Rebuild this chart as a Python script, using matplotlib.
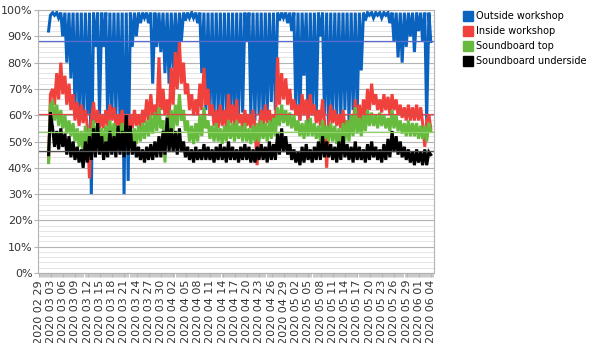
import matplotlib.pyplot as plt
import matplotlib.dates as mdates
from matplotlib.lines import Line2D
import numpy as np
import pandas as pd

# relative humidity (%), two readings a day (late morning / night), from 2020-03-02
first_day = "2020-03-02"

outside_a = [92, 99, 99, 99, 99, 99, 99, 99, 99, 99,
             99, 99, 99, 99, 99, 99, 99, 99, 99, 99,
             99, 99, 99, 99, 99, 99, 99, 99, 99, 99,
             99, 99, 99, 99, 99, 99, 99, 99, 99, 99,
             99, 99, 99, 99, 99, 99, 99, 99, 99, 99,
             99, 99, 99, 99, 99, 99, 99, 99, 99, 99,
             99, 99, 99, 99, 99, 99, 99, 99, 99, 99,
             99, 99, 99, 99, 99, 99, 99, 99, 99, 99,
             99, 99, 99, 99, 99, 99, 99, 99, 99, 99,
             99, 99, 99, 99]
outside_b = [98, 98, 97, 90, 80, 74, 62, 59, 58, 60,
             30, 86, 60, 86, 58, 59, 60, 58, 30, 35,
             86, 90, 95, 97, 95, 72, 86, 84, 76, 72,
             78, 80, 88, 96, 97, 97, 95, 76, 62, 60,
             58, 60, 57, 60, 58, 57, 60, 61, 88, 60,
             58, 60, 57, 60, 65, 62, 96, 97, 95, 92,
             62, 58, 75, 57, 60, 60, 90, 60, 55, 58,
             60, 58, 62, 58, 62, 60, 77, 96, 98, 97,
             98, 97, 98, 95, 88, 82, 80, 86, 90, 84,
             92, 88, 58, 88]

inside_a = [42, 70, 76, 80, 75, 72, 68, 65, 64, 62,
            36, 65, 62, 60, 62, 64, 63, 60, 62, 58,
            60, 62, 60, 62, 66, 68, 64, 82, 70, 66,
            78, 84, 88, 80, 72, 68, 66, 72, 78, 70,
            64, 62, 64, 62, 68, 64, 66, 60, 62, 60,
            62, 41, 62, 64, 62, 60, 82, 76, 74, 70,
            66, 64, 68, 66, 68, 64, 62, 66, 40, 64,
            62, 60, 62, 58, 60, 66, 64, 66, 70, 72,
            68, 66, 68, 67, 68, 66, 64, 63, 64, 63,
            64, 63, 48, 60]
inside_b = [68, 64, 66, 68, 64, 62, 58, 56, 57, 56,
            58, 57, 55, 55, 56, 58, 56, 55, 56, 54,
            55, 56, 55, 57, 58, 60, 58, 62, 60, 58,
            64, 70, 72, 68, 62, 60, 60, 62, 64, 60,
            56, 55, 56, 55, 57, 56, 57, 55, 56, 55,
            56, 55, 56, 57, 56, 55, 64, 66, 64, 62,
            60, 58, 60, 58, 60, 57, 56, 58, 56, 57,
            56, 55, 56, 54, 55, 57, 56, 58, 62, 64,
            62, 61, 62, 60, 62, 60, 59, 58, 58, 58,
            58, 57, 58, 55]

top_a = [42, 65, 64, 62, 60, 58, 57, 55, 54, 56,
         55, 58, 56, 55, 56, 58, 57, 56, 57, 55,
         54, 55, 56, 57, 58, 60, 61, 63, 58, 60,
         62, 64, 68, 62, 58, 56, 57, 60, 63, 58,
         56, 57, 55, 56, 58, 57, 58, 56, 57, 55,
         56, 57, 58, 57, 58, 59, 63, 64, 62, 61,
         60, 58, 57, 58, 59, 57, 56, 58, 56, 57,
         56, 55, 57, 58, 60, 63, 59, 60, 62, 61,
         60, 61, 60, 59, 62, 60, 58, 57, 58, 57,
         57, 56, 56, 57]
top_b = [64, 58, 56, 55, 53, 52, 50, 48, 46, 48,
         48, 50, 49, 48, 50, 50, 50, 49, 50, 49,
         48, 49, 50, 51, 52, 53, 54, 55, 42, 50,
         54, 56, 58, 54, 50, 49, 50, 52, 55, 51,
         50, 50, 49, 50, 51, 50, 51, 50, 50, 49,
         50, 50, 51, 50, 51, 52, 56, 57, 56, 55,
         54, 52, 51, 52, 52, 51, 50, 51, 50, 50,
         49, 48, 50, 50, 52, 53, 52, 54, 56, 56,
         55, 56, 55, 54, 55, 54, 53, 52, 52, 52,
         51, 51, 50, 54]

under_a = [45, 55, 54, 55, 53, 52, 50, 48, 47, 50,
           52, 55, 57, 52, 50, 54, 52, 56, 54, 60,
           56, 50, 48, 47, 48, 49, 50, 52, 54, 59,
           55, 54, 55, 50, 48, 47, 48, 47, 49, 48,
           47, 48, 49, 48, 50, 48, 47, 48, 49, 48,
           47, 48, 49, 48, 50, 49, 53, 55, 52, 49,
           47, 46, 48, 49, 47, 48, 50, 52, 50, 49,
           48, 50, 52, 49, 48, 50, 48, 47, 49, 50,
           48, 47, 49, 51, 54, 52, 50, 48, 47, 46,
           47, 46, 47, 46]
under_b = [61, 48, 47, 48, 45, 44, 43, 42, 40, 42,
           43, 44, 45, 43, 44, 45, 44, 45, 44, 45,
           45, 44, 43, 42, 43, 43, 44, 44, 45, 46,
           46, 45, 46, 44, 43, 42, 43, 43, 43, 43,
           42, 43, 43, 42, 43, 43, 42, 43, 43, 42,
           42, 43, 43, 42, 43, 43, 45, 46, 45, 43,
           42, 41, 42, 43, 42, 43, 43, 44, 44, 43,
           42, 43, 44, 43, 42, 43, 43, 42, 43, 44,
           43, 42, 43, 44, 46, 45, 44, 43, 42, 41,
           42, 41, 41, 45]

labels = ["Outside workshop", "Inside workshop", "Soundboard top", "Soundboard underside"]
colors = ["#0b63c0", "#f0413c", "#66bb3e", "#000000"]
mean_colors = ["#5a6cd0", "#e04848", "#8fd068", "#555555"]
mean_levels = [88.4, 60.5, 53.5, 46.2]


def interleave(a, b):
    return np.column_stack([a, b]).ravel()


days = pd.date_range(first_day, periods=len(outside_a), freq="D")
t = interleave(days + pd.Timedelta(hours=11), days + pd.Timedelta(hours=22))
series = [interleave(outside_a, outside_b), interleave(inside_a, inside_b),
          interleave(top_a, top_b), interleave(under_a, under_b)]

fig = plt.figure(figsize=(6, 3.43), dpi=100)
ax = fig.add_axes([38 / 600, 1 - 273 / 343, 396 / 600, 263 / 343])

for y, c in zip(series, colors):
    ax.plot(t, y, color=c, lw=2.2, solid_joinstyle="miter")
for m, c in zip(mean_levels, mean_colors):
    ax.axhline(m, color=c, lw=0.9)

ax.set_ylim(0, 100)
ax.set_yticks(np.arange(0, 101, 10))
ax.set_yticks(np.arange(0, 101, 2), minor=True)
ax.set_yticklabels([f"{v}%" for v in range(0, 101, 10)])
ax.grid(which="major", axis="y", color="#b3b3b3", lw=0.8)
ax.grid(which="minor", axis="y", color="#e0e0e0", lw=0.6)
ax.set_axisbelow(True)

x0 = pd.Timestamp("2020-02-29") - pd.Timedelta(hours=3)
x1 = pd.Timestamp("2020-06-04") + pd.Timedelta(hours=17)
ax.set_xlim(x0, x1)
ax.set_xticks(pd.date_range("2020-02-29", "2020-06-04", freq="3D"))
ax.xaxis.set_major_formatter(mdates.DateFormatter("%Y %m %d"))
ax.xaxis.set_minor_locator(mdates.HourLocator(byhour=[0, 6, 12, 18]))
plt.setp(ax.get_xticklabels(), rotation=90)

ax.tick_params(axis="both", which="both", colors="#b3b3b3", labelcolor="#333333",
               labelsize=8)
ax.tick_params(axis="x", which="major", length=3, pad=2)
ax.tick_params(axis="x", which="minor", length=3, width=0.5)
ax.tick_params(axis="y", which="major", length=3, pad=1)
ax.tick_params(axis="y", which="minor", length=0)
for s in ax.spines.values():
    s.set_color("#b3b3b3")

handles = [Line2D([], [], ls="none", marker="s", markersize=6.5, color=c) for c in colors]
fig.legend(handles, labels, loc="upper left", bbox_to_anchor=(0.765, 0.978),
           frameon=False, fontsize=7, handletextpad=0.4, labelspacing=0.5,
           handlelength=1.0, borderaxespad=0)

fig.savefig("out.png", dpi=100)
